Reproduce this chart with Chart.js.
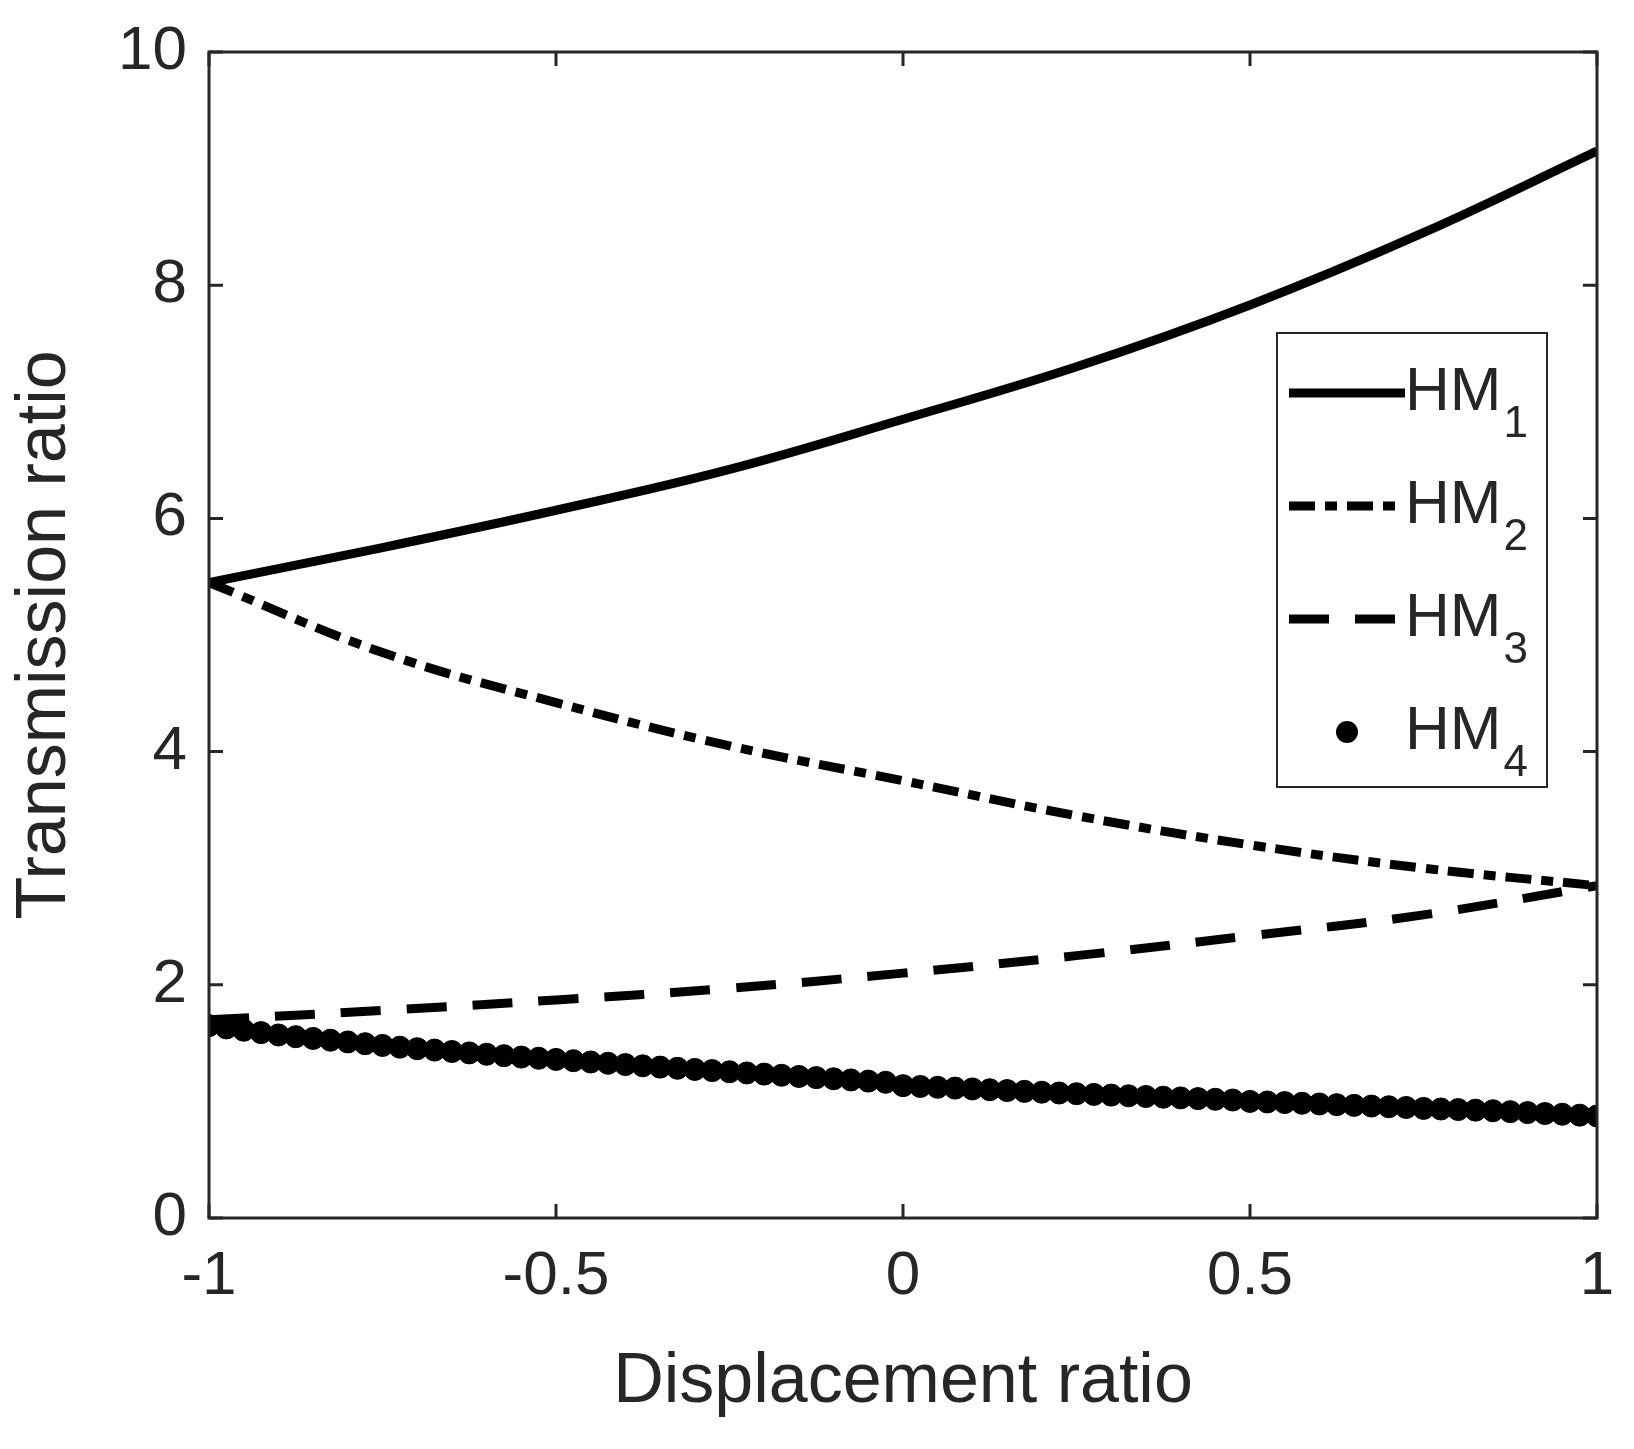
<!DOCTYPE html>
<html><head><meta charset="utf-8">
<script src="https://cdn.jsdelivr.net/npm/chart.js@4/dist/chart.umd.min.js"></script>
<style>html,body{margin:0;padding:0;background:#fff}#c{display:block}</style>
</head><body>
<canvas id="c" width="1634" height="1449"></canvas>
<script>
// line series sampled at 0.25 steps
const xLine = [-1, -0.75, -0.5, -0.25, 0, 0.25, 0.5, 0.75, 1];
const hm1 = [5.45, 5.75, 6.07, 6.42, 6.85, 7.3, 7.83, 8.45, 9.15];
const hm2 = [5.45, 4.85, 4.42, 4.05, 3.75, 3.45, 3.2, 3.0, 2.85];
const hm3 = [1.7, 1.78, 1.87, 1.97, 2.1, 2.25, 2.42, 2.6, 2.85];
// dotted series sampled at 0.025 steps
const xDots = [];
for (let i = 0; i <= 80; i++) xDots.push(-1 + i * 0.025);
const hm4 = [1.65,1.63,1.61,1.59,1.57,1.555,1.54,1.525,1.51,1.495,
  1.48,1.465,1.452,1.44,1.428,1.416,1.404,1.392,1.38,1.37,
  1.36,1.349,1.338,1.327,1.316,1.305,1.294,1.284,1.274,1.264,
  1.254,1.244,1.234,1.224,1.214,1.204,1.194,1.184,1.174,1.164,
  1.135,1.128,1.121,1.114,1.107,1.1,1.093,1.086,1.079,1.072,
  1.066,1.06,1.054,1.048,1.042,1.036,1.03,1.024,1.018,1.012,
  1.0,0.995,0.99,0.984,0.978,0.972,0.966,0.96,0.954,0.948,
  0.94,0.935,0.93,0.925,0.92,0.912,0.904,0.896,0.89,0.882,0.875];
const xTicks = [-1, -0.5, 0, 0.5, 1];
const yTicks = [0, 2, 4, 6, 8, 10];
const legendNames = ['1', '2', '3', '4'];

const ink = '#262626';
const fam = 'Arial, "Liberation Sans", sans-serif';
const pts = (xs, ys) => xs.map((x, i) => ({x, y: ys[i]}));

const frame = {
  id: 'frame',
  afterDraw(chart) {
    const {ctx, chartArea: a, scales: {x, y}} = chart;
    ctx.save();
    ctx.strokeStyle = ink; ctx.lineWidth = 3;
    ctx.strokeRect(a.left, a.top, a.right - a.left, a.bottom - a.top);
    xTicks.forEach(v => {
      const px = x.getPixelForValue(v);
      ctx.beginPath(); ctx.moveTo(px, a.bottom); ctx.lineTo(px, a.bottom - 14);
      ctx.moveTo(px, a.top); ctx.lineTo(px, a.top + 14); ctx.stroke();
    });
    yTicks.forEach(v => {
      const py = y.getPixelForValue(v);
      ctx.beginPath(); ctx.moveTo(a.left, py); ctx.lineTo(a.left + 14, py);
      ctx.moveTo(a.right, py); ctx.lineTo(a.right - 14, py); ctx.stroke();
    });
    // legend
    const lx = 1277, ly = 333, lw = 270, lh = 454;
    ctx.fillStyle = '#fff'; ctx.fillRect(lx, ly, lw, lh);
    ctx.lineWidth = 2; ctx.strokeRect(lx, ly, lw, lh);
    const dashes = [[], [26, 10, 12, 10], [40, 26], null];
    legendNames.forEach((n, i) => {
      const cy = ly + 60 + i * 113;
      ctx.strokeStyle = '#000'; ctx.fillStyle = '#000';
      if (dashes[i]) {
        ctx.lineWidth = 9; ctx.setLineDash(dashes[i]);
        ctx.beginPath(); ctx.moveTo(lx + 12, cy); ctx.lineTo(lx + 128, cy); ctx.stroke();
        ctx.setLineDash([]);
      } else {
        ctx.beginPath(); ctx.arc(lx + 70, cy, 11, 0, Math.PI * 2); ctx.fill();
      }
      ctx.fillStyle = ink;
      ctx.font = '62px ' + fam;
      ctx.textBaseline = 'middle'; ctx.textAlign = 'left';
      ctx.fillText('HM', lx + 128, cy);
      const w = ctx.measureText('HM').width;
      ctx.font = '44px ' + fam;
      ctx.fillText(n, lx + 128 + w + 2, cy + 32);
    });
    ctx.restore();
  }
};

new Chart(document.getElementById('c'), {
  type: 'scatter',
  data: {
    datasets: [
      {data: pts(xLine, hm1), showLine: true, borderColor: '#000', borderWidth: 9, pointRadius: 0, tension: 0.4},
      {data: pts(xLine, hm2), showLine: true, borderColor: '#000', borderWidth: 9, borderDash: [26, 10, 12, 10], pointRadius: 0, tension: 0.4},
      {data: pts(xLine, hm3), showLine: true, borderColor: '#000', borderWidth: 9, borderDash: [40, 26], pointRadius: 0, tension: 0.4},
      {data: pts(xDots, hm4), showLine: false, backgroundColor: '#000', borderColor: '#000', pointRadius: 11}
    ]
  },
  options: {
    responsive: false, animation: false,
    layout: {padding: {top: 52, right: 37, bottom: 20}},
    plugins: {legend: {display: false}, tooltip: {enabled: false}},
    scales: {
      x: {
        min: -1, max: 1,
        afterBuildTicks: s => { s.ticks = xTicks.map(v => ({value: v})); },
        afterFit: s => { s.height = 211; },
        grid: {display: false}, border: {display: false},
        ticks: {color: ink, font: {size: 62, family: fam}, padding: 14, maxRotation: 0,
                callback: v => String(v)},
        title: {display: true, text: 'Displacement ratio', color: ink, font: {size: 70, family: fam}, padding: {top: 2}}
      },
      y: {
        min: 0, max: 10,
        afterBuildTicks: s => { s.ticks = yTicks.map(v => ({value: v})); },
        afterFit: s => { s.width = 209; },
        grid: {display: false}, border: {display: false},
        ticks: {color: ink, font: {size: 62, family: fam}, padding: 14},
        title: {display: true, text: 'Transmission ratio', color: ink, font: {size: 70, family: fam}, padding: {bottom: 4}}
      }
    }
  },
  plugins: [frame]
});
</script>
</body></html>
